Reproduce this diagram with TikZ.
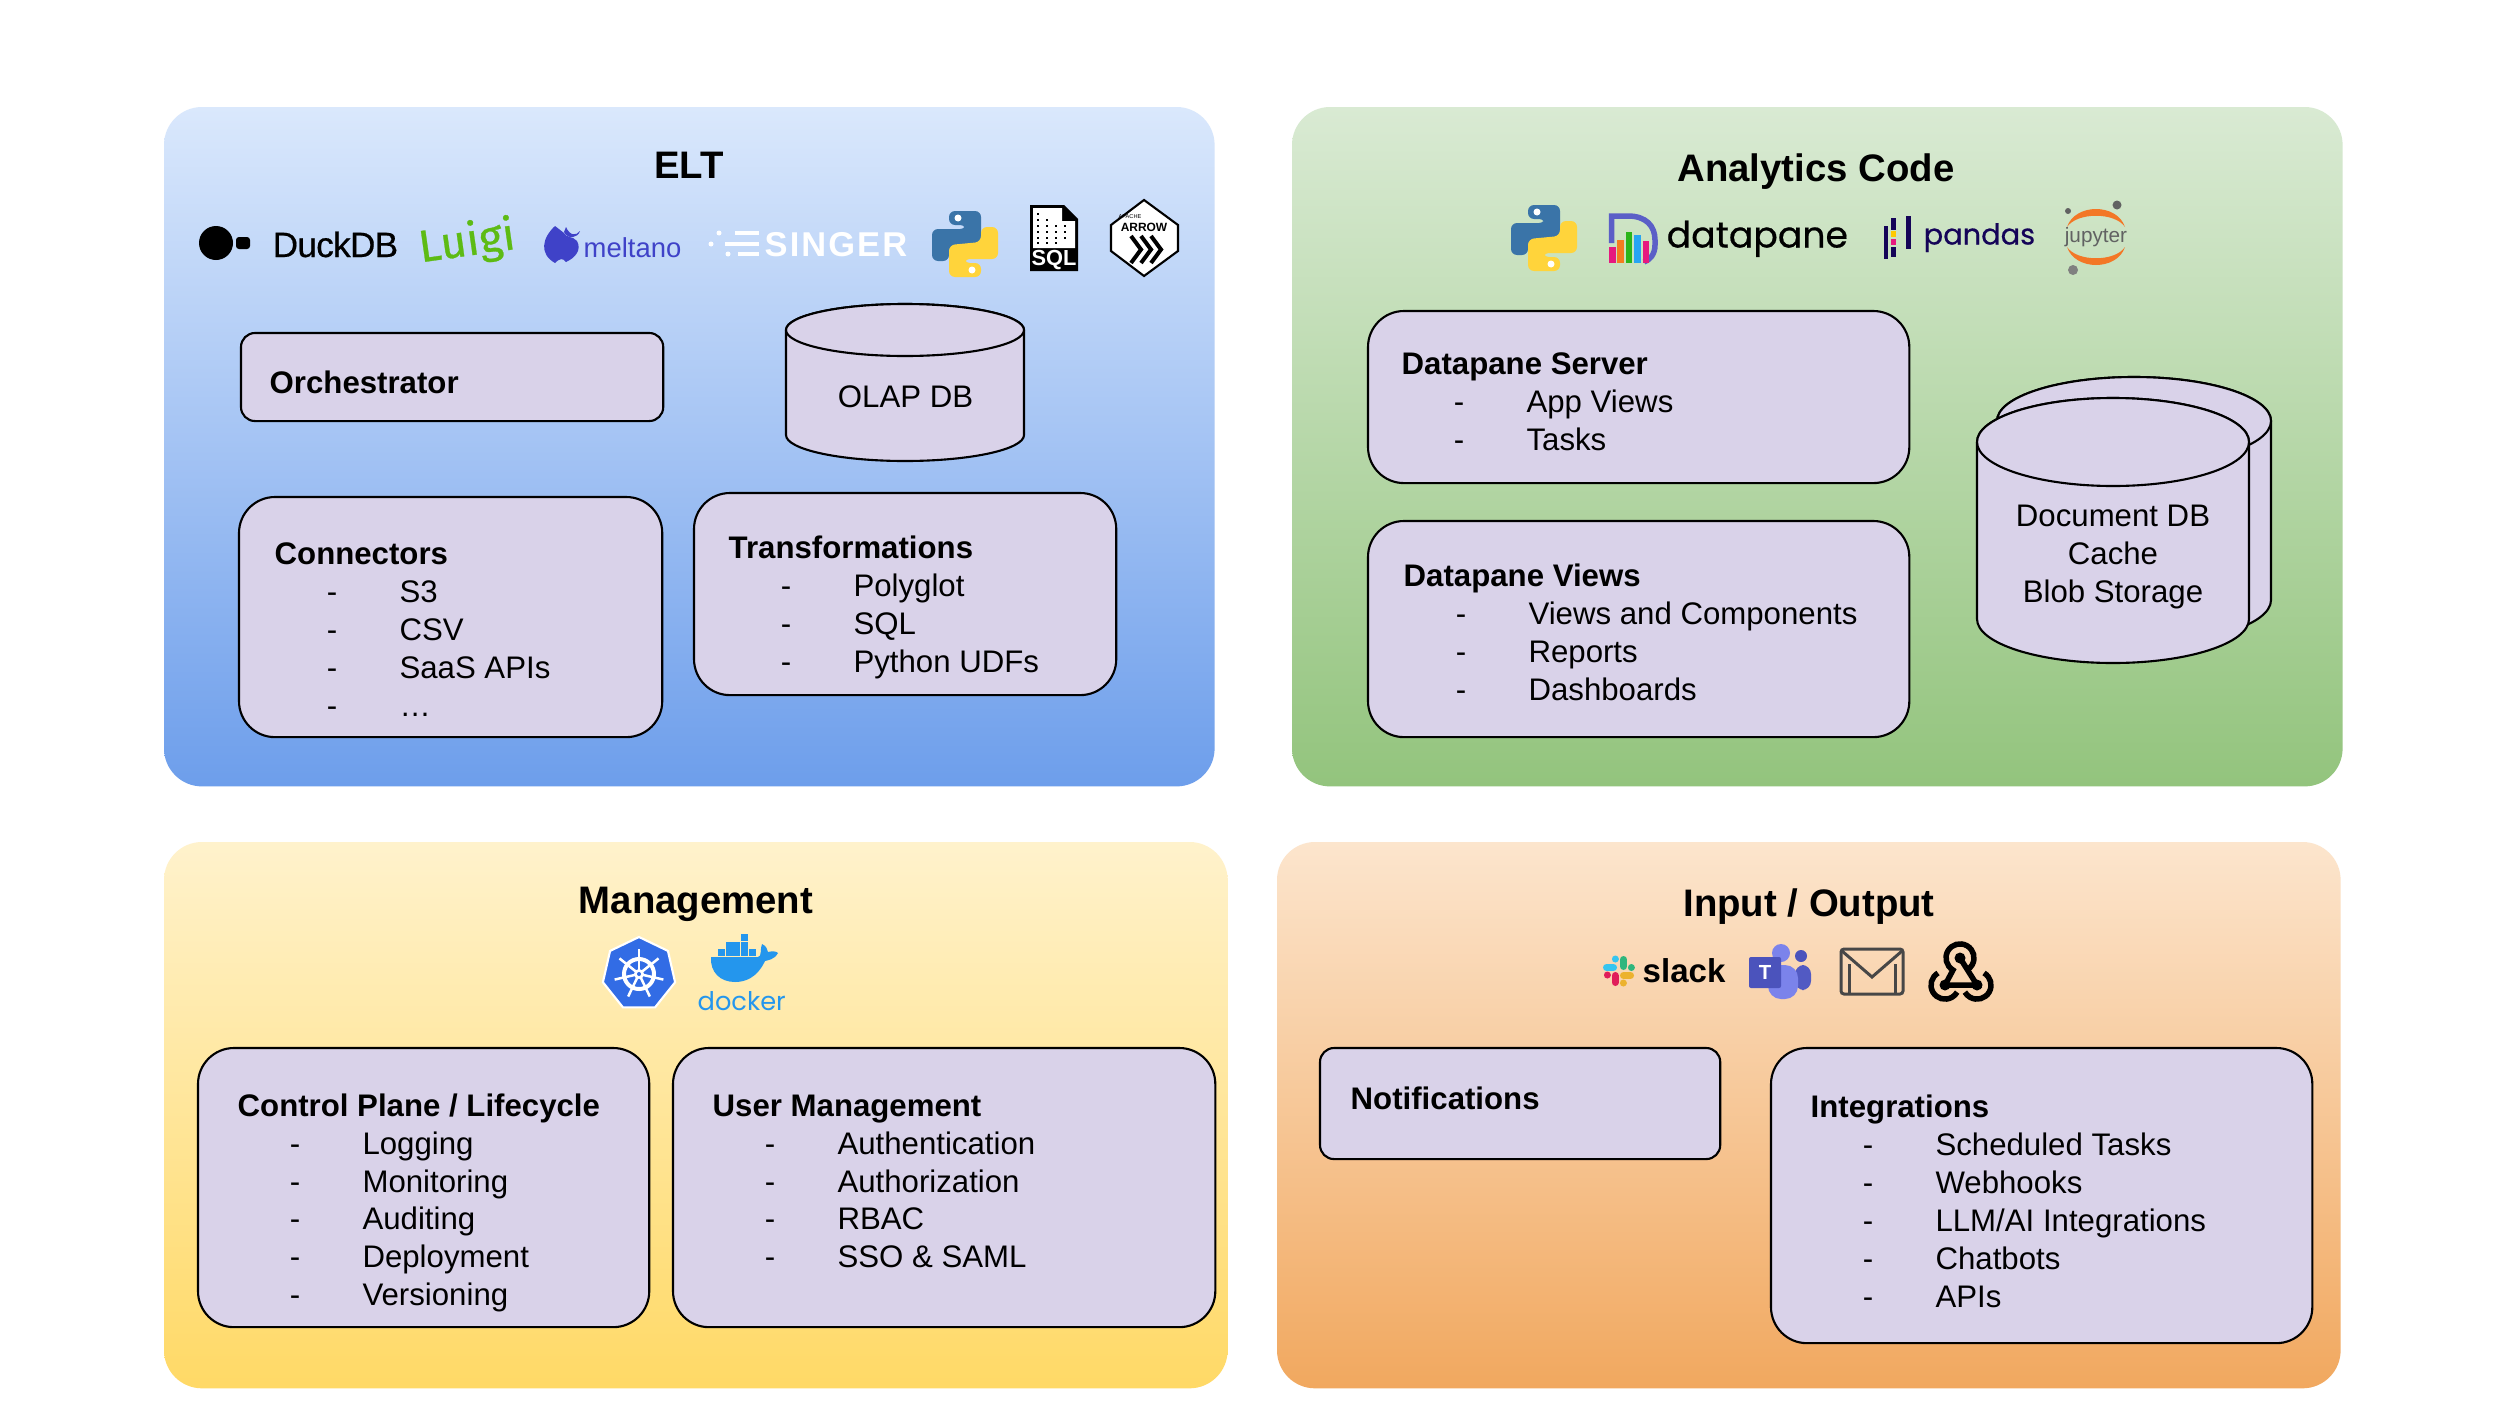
\documentclass[tikz,border=0pt]{standalone}
\usepackage{fontspec}
\setmainfont{Liberation Sans}
\newfontfamily\logofont{Poppins}
\newfontfamily\luigifont{Fira Sans}
\usetikzlibrary{shapes.geometric}

\definecolor{boxfill}{HTML}{D9D2E9}
\definecolor{eltTop}{HTML}{DAE8FC}
\definecolor{eltBottom}{HTML}{6D9EEB}
\definecolor{codeTop}{HTML}{D9EAD3}
\definecolor{codeBottom}{HTML}{93C47D}
\definecolor{mgmtTop}{HTML}{FFF2CC}
\definecolor{mgmtBottom}{HTML}{FFD966}
\definecolor{ioTop}{HTML}{FCE5CD}
\definecolor{ioBottom}{HTML}{F1A85F}
\definecolor{pyBlue}{HTML}{3A74A8}
\definecolor{pyYellow}{HTML}{FFD43B}
\definecolor{meltBlue}{HTML}{3F42C8}
\definecolor{luigiGreen}{HTML}{5DBB14}
\definecolor{dpPurple}{HTML}{5B5FC7}
\definecolor{dpPink}{HTML}{E6197F}
\definecolor{dpOrange}{HTML}{F47C20}
\definecolor{dpGreen}{HTML}{2BB51A}
\definecolor{dpBlue}{HTML}{27A5F2}
\definecolor{pandasBlue}{HTML}{150458}
\definecolor{pandasYellow}{HTML}{FFCA00}
\definecolor{jupOrange}{HTML}{F37726}
\definecolor{jupGrey}{HTML}{616262}
\definecolor{kubeBlue}{HTML}{326CE5}
\definecolor{dockerBlue}{HTML}{2496ED}
\definecolor{teamsDark}{HTML}{4B53BC}
\definecolor{teamsLight}{HTML}{7B83EB}
\definecolor{slackBlue}{HTML}{36C5F0}
\definecolor{slackGreen}{HTML}{2EB67D}
\definecolor{slackYellow}{HTML}{ECB22E}
\definecolor{slackPink}{HTML}{E01E5A}

\newcommand{\boxhead}[1]{\rule{0pt}{8pt}\textbf{#1}}
\newcommand{\listline}[1]{\makebox[35.5pt][l]{\hspace{14.8pt}-}#1}

\tikzset{
	panel/.style={anchor=north west, rounded corners=0.38cm, inner sep=0, outer sep=0},
	box/.style={draw=black, fill=boxfill, line width=0.6pt},
	card/.style={box, anchor=north west, inner sep=0, outer sep=0},
	bigcard/.style={card, rounded corners=0.36cm},
	smallcard/.style={card, rounded corners=0.14cm},
	size/.style 2 args={minimum width=#1 cm, minimum height=#2 cm},
	heading/.style={anchor=base, inner sep=0, font=\fontsize{10.9}{13}\selectfont\bfseries},
	listtext/.style={anchor=north west, inner sep=0, align=left, font=\fontsize{8.87}{10.77}\selectfont},
	drumtext/.style={anchor=center, inner sep=0, align=center, font=\fontsize{8.87}{10.77}\selectfont},
	logotext/.style={anchor=base west, inner sep=0},
	pylogo/.pic={
		\foreach \c/\r in {pyBlue/0, pyYellow/180}{
			\begin{scope}[rotate=\r]
				\fill[\c, rounded corners=0.06cm] (-16,-33) -- (16,-33) -- (16,-1) -- (-16,2) -- (-16,17) -- (-33,17) -- (-33,-15) -- (1,-15) -- (1,-19) -- (-16,-19) -- cycle;
				\fill[white] (-7,-26) circle (3.5);
			\end{scope}
		}
	}
}

%	cylinder: centre x, top centre y, radius x, radius y, height
\newcommand{\drum}[5]{
	\draw[box] (#1-#3,#2) -- (#1-#3,#2+#5) arc (180:0:#3 and #4) -- (#1+#3,#2) arc (0:-180:#3 and #4) -- cycle;
	\draw[box] (#1,#2) ellipse (#3 and #4);
}

\begin{document}
\begin{tikzpicture}[x=0.01cm, y=-0.01cm]
	\useasboundingbox (0,0) rectangle (2500,1406);
	\fill[white] (0,0) rectangle (2500,1406);

	%	panels
	\node[panel, size={10.50}{6.79}, top color=eltTop, bottom color=eltBottom] (eltPanel) at (164,107) {};
	\node[panel, size={10.50}{6.79}, top color=codeTop, bottom color=codeBottom] (codePanel) at (1292,107) {};
	\node[panel, size={10.63}{5.46}, top color=mgmtTop, bottom color=mgmtBottom] (mgmtPanel) at (164,842) {};
	\node[panel, size={10.63}{5.46}, top color=ioTop, bottom color=ioBottom] (ioPanel) at (1277,842) {};

	\node[heading] (eltTitle) at (689,178) {ELT};
	\node[heading] (codeTitle) at (1816,181) {Analytics Code};
	\node[heading] (mgmtTitle) at (696,913) {Management};
	\node[heading] (ioTitle) at (1809,916) {Input / Output};

	%	ELT boxes
	\node[smallcard, size={4.22}{0.88}] (orchBox) at (241,333) {};
	\node[bigcard, size={4.23}{2.40}] (connBox) at (239,497) {};
	\node[bigcard, size={4.22}{2.02}] (transBox) at (694,493) {};
	\node[listtext] (orchText) at (269,364.5) {\boxhead{Orchestrator}};
	\node[listtext] (connText) at (274,536) {\boxhead{Connectors}\\\listline{S3}\\\listline{CSV}\\\listline{SaaS APIs}\\\listline{…}};
	\node[listtext] (transText) at (728,530) {\boxhead{Transformations}\\\listline{Polyglot}\\\listline{SQL}\\\listline{Python UDFs}};
	\drum{905}{330}{119}{26}{105}
	\node[drumtext] (olapText) at (905.5,396.5) {OLAP DB};

	%	analytics boxes
	\node[bigcard, size={5.41}{1.72}] (serverBox) at (1368,311) {};
	\node[bigcard, size={5.41}{2.16}] (viewsBox) at (1368,521) {};
	\node[listtext] (serverText) at (1401,346) {\boxhead{Datapane Server}\\\listline{App Views}\\\listline{Tasks}};
	\node[listtext] (viewsText) at (1403,558) {\boxhead{Datapane Views}\\\listline{Views and Components}\\\listline{Reports}\\\listline{Dashboards}};
	\drum{2134}{421}{137}{44}{179}
	\drum{2113}{442}{136}{44}{177}
	\node[drumtext] (storeText) at (2113,557) {Document DB\\Cache\\Blob Storage};

	%	management boxes
	\node[bigcard, size={4.51}{2.79}] (planeBox) at (198,1048) {};
	\node[bigcard, size={5.42}{2.79}] (userBox) at (673,1048) {};
	\node[listtext] (planeText) at (237,1087.5) {\boxhead{Control Plane / Lifecycle}\\\listline{Logging}\\\listline{Monitoring}\\\listline{Auditing}\\\listline{Deployment}\\\listline{Versioning}};
	\node[listtext] (userText) at (712,1087.5) {\boxhead{User Management}\\\listline{Authentication}\\\listline{Authorization}\\\listline{RBAC}\\\listline{SSO \& SAML}};

	%	input / output boxes
	\node[smallcard, size={4.00}{1.11}] (notifBox) at (1320,1048) {};
	\node[bigcard, size={5.41}{2.95}] (integBox) at (1771,1048) {};
	\node[listtext] (notifText) at (1350,1081) {\boxhead{Notifications}};
	\node[listtext] (integText) at (1810,1089) {\boxhead{Integrations}\\\listline{Scheduled Tasks}\\\listline{Webhooks}\\\listline{LLM/AI Integrations}\\\listline{Chatbots}\\\listline{APIs}};

	%	duckdb
	\fill[black] (216,243) circle (17);
	\fill[black, rounded corners=0.03cm] (236,237) rectangle (250,249);
	\node[logotext, font=\fontsize{10}{12}\selectfont\addfontfeature{FakeBold=0.5,LetterSpace=-2}] (duckLogo) at (272,257) {DuckDB};

	%	luigi
	\node[inner sep=0, rotate=8, text=luigiGreen, font=\luigifont\fontsize{12.8}{15}\selectfont\addfontfeature{FakeBold=0.6}] (luigiLogo) at (467,243) {Luigi};

	%	meltano
	\fill[meltBlue] (555,226) .. controls (542,238) and (539,254) .. (555,263) .. controls (560,258) and (563,258) .. (566,262) .. controls (575,258) and (582,250) .. (577,241) .. controls (573,236) and (566,238) .. (564,233) -- cycle;
	\fill[meltBlue] (566,227) .. controls (570,236) and (576,236) .. (580,231) .. controls (578,238) and (568,240) .. (564,232) -- cycle;
	\node[logotext, text=meltBlue, font=\fontsize{7.8}{10}\selectfont] (meltLogo) at (583,257) {meltano};

	%	singer
	\foreach \y/\d/\s in {233/719/735, 244/711/725, 254/728/738}{
		\draw[white, line width=0.045cm] (\s,\y) -- (759,\y);
		\fill[white] (\d,\y) circle (2.5);
	}
	\node[logotext, text=white, font=\fontsize{9.8}{12}\selectfont\bfseries\addfontfeature{LetterSpace=6}] (singerLogo) at (764,256) {SINGER};

	%	python
	\pic at (965,244) {pylogo};
	\pic at (1544,238) {pylogo};

	%	sql file
	\fill[black] (1030,205) -- (1064,205) -- (1078,219) -- (1078,271) -- (1030,271) -- cycle;
	\fill[white] (1033,208) -- (1062,208) -- (1062,221) -- (1075,221) -- (1075,248) -- (1033,248) -- cycle;
	\foreach \y/\e in {214/1044, 220/1054, 226/1066, 232/1070, 238/1070, 243/1058}{
		\draw[black, line width=0.02cm, dotted] (1037,\y) -- (\e,\y);
	}
	\node[inner sep=0, text=white, font=\fontsize{6.2}{7}\selectfont\bfseries] (sqlLogo) at (1054,260) {SQL};

	%	arrow
	\draw[black, fill=white, line width=0.6pt] (1144,200) -- (1178,225) -- (1178,251) -- (1144,276) -- (1111,251) -- (1111,225) -- cycle;
	\node[inner sep=0, font=\fontsize{1.6}{2}\selectfont] (apacheLogo) at (1130,217) {APACHE};
	\node[inner sep=0, font=\fontsize{3.4}{4}\selectfont\bfseries] (arrowLogo) at (1144,227) {ARROW};
	\foreach \x in {1131,1141,1151}{
		\draw[black, line width=0.04cm] (\x,236) -- (\x+10,249.5) -- (\x,263);
	}

	%	datapane
	\draw[dpPurple, line width=0.055cm] (1611.5,243) -- (1611.5,216) -- (1628,216) .. controls (1646,216) and (1655,226) .. (1655,240) -- (1655,245) .. controls (1655,254) and (1650,260) .. (1644,262);
	\fill[dpPink] (1609,247) rectangle (1615.5,263);
	\fill[dpOrange] (1617,240) rectangle (1624,263);
	\fill[dpGreen] (1626,232) rectangle (1632,263);
	\fill[dpBlue] (1634,235) rectangle (1641,263);
	\fill[dpPink] (1643,241) rectangle (1649,263);
	\node[logotext, font=\logofont\fontsize{10.3}{12}\selectfont\addfontfeature{FakeBold=0.5}] (dataLogo) at (1666,247.5) {datapane};

	%	pandas
	\fill[pandasBlue] (1884,226) rectangle (1888,259);
	\fill[pandasBlue] (1891,218) rectangle (1896,230);
	\fill[pandasYellow] (1891,231) rectangle (1896,237);
	\fill[dpPink] (1891,239) rectangle (1896,245);
	\fill[pandasBlue] (1891,247) rectangle (1896,257);
	\fill[pandasBlue] (1906,216) rectangle (1911,249);
	\node[logotext, text=pandasBlue, font=\logofont\fontsize{8.2}{10}\selectfont\addfontfeature{FakeBold=0.5}] (pandasLogo) at (1923,244.5) {pandas};

	%	jupyter
	\fill[jupOrange] (2067,227) .. controls (2075,203) and (2117,203) .. (2125,227) .. controls (2115,212) and (2077,212) .. (2067,227) -- cycle;
	\fill[jupOrange] (2067,247) .. controls (2075,271) and (2117,271) .. (2125,247) .. controls (2115,262) and (2077,262) .. (2067,247) -- cycle;
	\fill[jupGrey] (2117,205) circle (4.5);
	\fill[jupGrey] (2068,211) circle (3);
	\fill[gray] (2073,270) circle (5);
	\node[inner sep=0, text=jupGrey, anchor=base, font=\fontsize{5.9}{7}\selectfont] (jupLogo) at (2096,242) {jupyter};

	%	kubernetes
	\node[regular polygon, regular polygon sides=7, draw=white, line width=0.6pt, fill=kubeBlue, minimum size=0.74cm, inner sep=0] (kubeLogo) at (639,974) {};
	\draw[white, line width=0.04cm] (639,974) circle (15);
	\fill[white] (639,974) circle (5);
	\foreach \a in {0,...,6}{
		\draw[white, line width=0.025cm] (639,974) -- ++(-90+\a*51.43:25);
	}
	\fill[kubeBlue] (639,974) circle (2);

	%	docker
	\foreach \x/\y in {741/934, 726/942, 733/942, 741/942, 718/949, 726/949, 733/949, 741/949, 749/949}{
		\fill[dockerBlue] (\x,\y) rectangle ++(7,6.5);
	}
	\fill[dockerBlue] (711,957) -- (758,957) .. controls (762,957) and (760,948) .. (762,944) .. controls (767,946) and (767,950) .. (768,952) .. controls (772,951) and (776,951) .. (778,953) .. controls (774,960) and (768,960) .. (765,961) .. controls (757,978) and (745,982) .. (735,982) .. controls (720,982) and (710,972) .. (711,957) -- cycle;
	\node[logotext, text=dockerBlue, font=\logofont\fontsize{7.3}{10}\selectfont] (dockerLogo) at (697,1010) {docker};

	%	slack
	\begin{scope}[line width=0.07cm, line cap=round]
		\draw[slackBlue] (1606.5,967.5) -- (1613.5,967.5);
		\draw[slackBlue] (1615,959) -- (1615,959.01);
		\draw[slackGreen] (1623.5,959.5) -- (1623.5,966.5);
		\draw[slackGreen] (1631,967.5) -- (1631,967.51);
		\draw[slackYellow] (1623.5,975.5) -- (1630.5,975.5);
		\draw[slackYellow] (1623,983) -- (1623,983.01);
		\draw[slackPink] (1615,975.5) -- (1615,982.5);
		\draw[slackPink] (1607,975) -- (1607,975.01);
	\end{scope}
	\node[logotext, font=\fontsize{9.4}{11}\selectfont\bfseries] (slackLogo) at (1642,982) {slack};

	%	teams
	\fill[teamsDark!85!teamsLight, rounded corners=0.09cm] (1795,965) -- (1811,965) -- (1811,990) -- (1795,990) -- cycle;
	\fill[teamsLight, rounded corners=0.13cm] (1768,965) -- (1798,965) -- (1798,999) -- (1768,999) -- cycle;
	\fill[teamsLight] (1781,953) circle (9);
	\fill[teamsDark] (1801,956) circle (6);
	\fill[teamsDark, rounded corners=0.02cm] (1749,957) rectangle (1781,988);
	\node[inner sep=0, text=white, font=\fontsize{5.8}{7}\selectfont\bfseries] (teamsLogo) at (1765,972) {T};

	%	mail
	\draw[black!72, line width=0.03cm, rounded corners=0.03cm] (1841,949) rectangle (1903,994);
	\draw[black!72, line width=0.03cm] (1842,951) -- (1872,977) -- (1902,951);
	\draw[black!72, line width=0.03cm] (1849,964) -- (1849,993);
	\draw[black!72, line width=0.03cm] (1895,964) -- (1895,993);

	%	webhook
	\begin{scope}[black, line width=0.055cm]
		\draw (1945,985) -- (1953,970) arc (120:420:14);
		\draw (1960,958) -- (1977,985) -- (1945,985);
		\draw (1938,973) arc (-120:-330:14);
		\draw (1984,973) arc (-60:150:14);
	\end{scope}
	\foreach \x/\y in {1960/958, 1945/985, 1977/985}{
		\fill[black] (\x,\y) circle (5.5);
	}
\end{tikzpicture}
\end{document}
